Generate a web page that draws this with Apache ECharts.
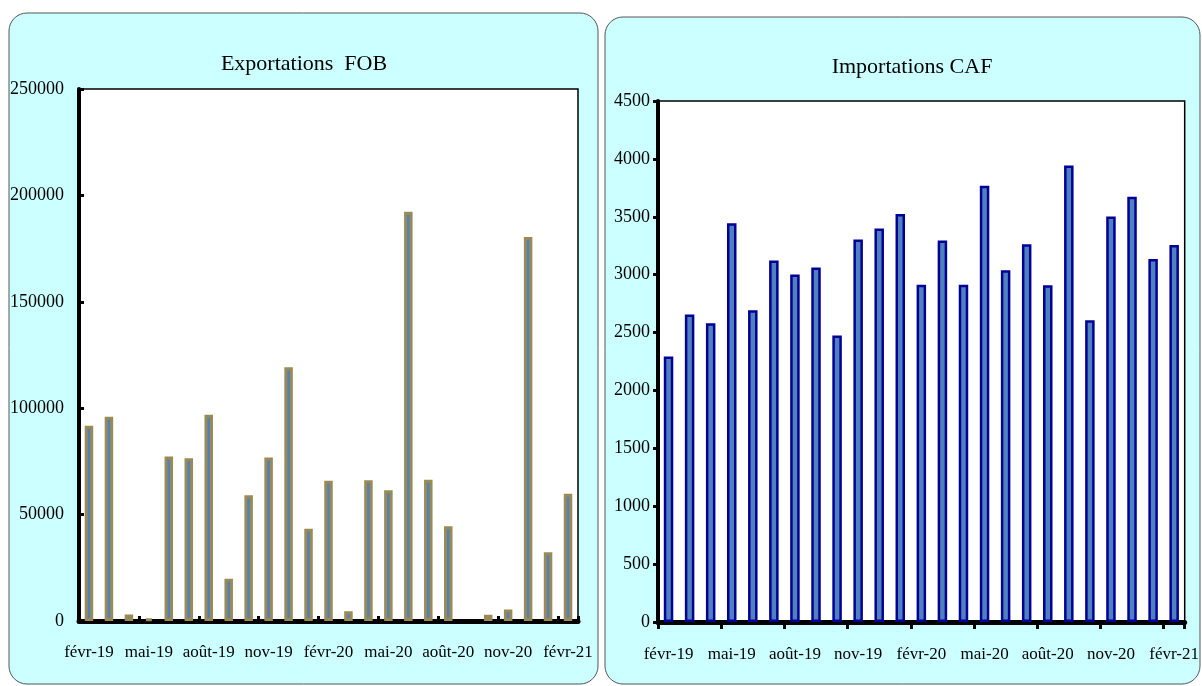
<!DOCTYPE html>
<html>
<head>
<meta charset="utf-8">
<script src="https://cdn.jsdelivr.net/npm/echarts@6/dist/echarts.min.js"></script>
<style>
  html, body { margin: 0; padding: 0; background: #fff; }
  #chart { width: 1202px; height: 686px; }
</style>
</head>
<body>
<div id="chart"></div>
<script>
const months = [
  'févr-19', 'mars-19', 'avr-19', 'mai-19', 'juin-19', 'juil-19', 'août-19', 'sept-19', 'oct-19',
  'nov-19', 'déc-19', 'janv-20', 'févr-20', 'mars-20', 'avr-20', 'mai-20', 'juin-20', 'juil-20',
  'août-20', 'sept-20', 'oct-20', 'nov-20', 'déc-20', 'janv-21', 'févr-21'
]
const exportsFob = [
  91700, 96000, 3000, 1200, 77300, 76500, 96900, 19800, 59100, 76800, 119300, 43300, 65900,
  4600, 66200, 61500, 192300, 66400, 44500, 0, 2900, 5400, 180500, 32300, 59800
]
const importsCaf = [
  2293, 2656, 2581, 3444, 2693, 3122, 3001, 3062, 2475, 3304, 3399, 3525, 2912,
  3295, 2912, 3767, 3039, 3263, 2909, 3943, 2607, 3502, 3672, 3136, 3257
]
const titles = ['Exportations  FOB', 'Importations CAF']

const FONT = '"Liberation Serif", "DejaVu Serif", serif'
const chart = echarts.init(document.getElementById('chart'))

const labelStyle = { fontFamily: FONT, fontSize: 17, color: '#000' }
const plain = v => String(v)

chart.setOption({
  backgroundColor: '#fff',
  animation: false,
  graphic: [
    {
      type: 'rect', z: -10,
      shape: { x: 9, y: 13, width: 589, height: 671, r: 18 },
      style: { fill: '#ccffff', stroke: '#555', lineWidth: 1 }
    },
    {
      type: 'rect', z: -10,
      shape: { x: 605, y: 17, width: 595, height: 667, r: 18 },
      style: { fill: '#ccffff', stroke: '#555', lineWidth: 1 }
    },
    {
      type: 'text', x: 304, y: 64,
      style: { text: titles[0], font: '22px ' + FONT, fill: '#000', textAlign: 'center', textVerticalAlign: 'middle' }
    },
    {
      type: 'text', x: 912, y: 67,
      style: { text: titles[1], font: '22px ' + FONT, fill: '#000', textAlign: 'center', textVerticalAlign: 'middle' }
    }
  ],
  grid: [
    { left: 79, top: 89, width: 499, height: 532, show: true, backgroundColor: '#fff', borderColor: '#000', borderWidth: 1.5 },
    { left: 658, top: 101, width: 527, height: 521, show: true, backgroundColor: '#fff', borderColor: '#000', borderWidth: 1.5 }
  ],
  xAxis: [
    {
      type: 'category', gridIndex: 0, data: months,
      axisLine: { lineStyle: { color: '#000', width: 5 } },
      axisTick: { show: true, inside: true, interval: 2, length: 5, lineStyle: { color: '#000', width: 3 } },
      axisLabel: { ...labelStyle, interval: 2, margin: 23 }
    },
    {
      type: 'category', gridIndex: 1, data: months,
      axisLine: { lineStyle: { color: '#000', width: 5 } },
      axisTick: { show: true, inside: false, interval: 2, length: 7, lineStyle: { color: '#000', width: 3 } },
      axisLabel: { ...labelStyle, interval: 2, margin: 24 }
    }
  ],
  yAxis: [
    {
      type: 'value', gridIndex: 0, min: 0, max: 250000, interval: 50000,
      axisLine: { show: true, lineStyle: { color: '#000', width: 4 } },
      axisTick: { show: true, inside: true, length: 5, lineStyle: { color: '#000', width: 3 } },
      splitLine: { show: false },
      axisLabel: { ...labelStyle, fontSize: 18, margin: 15, formatter: plain }
    },
    {
      type: 'value', gridIndex: 1, min: 0, max: 4500, interval: 500,
      axisLine: { show: true, lineStyle: { color: '#000', width: 4 } },
      axisTick: { show: true, inside: false, length: 5, lineStyle: { color: '#000', width: 3 } },
      splitLine: { show: false },
      axisLabel: { ...labelStyle, fontSize: 18, margin: 8, formatter: plain }
    }
  ],
  series: [
    {
      name: titles[0], type: 'bar', xAxisIndex: 0, yAxisIndex: 0,
      data: exportsFob.map(v => (v === 0 ? { value: v, itemStyle: { borderWidth: 0 } } : v)),
      barWidth: 8.5,
      itemStyle: { color: '#4f81bd', borderColor: '#9a8a55', borderWidth: 3 }
    },
    {
      name: titles[1], type: 'bar', xAxisIndex: 1, yAxisIndex: 1,
      data: importsCaf, barWidth: 9.5,
      itemStyle: { color: '#4f81bd', borderColor: '#000099', borderWidth: 2.5 }
    }
  ]
})
</script>
</body>
</html>
